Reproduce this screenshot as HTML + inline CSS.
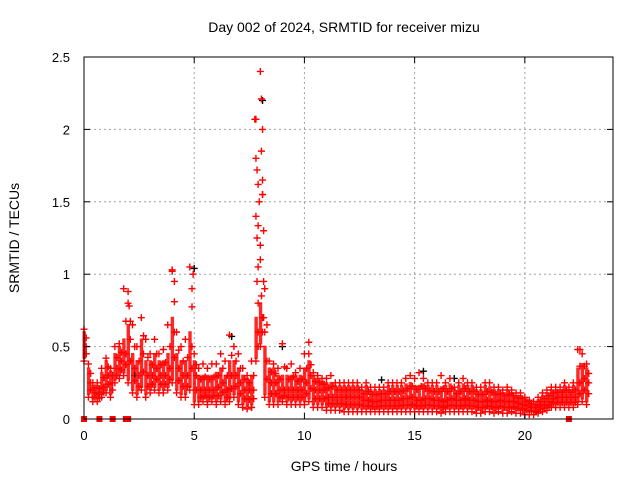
<!DOCTYPE html>
<html><head><meta charset="utf-8"><style>
body{margin:0;background:#fff}
svg{display:block;font-family:"Liberation Sans",sans-serif}
</style></head><body>
<svg id="c" width="640" height="480">
<text x="344" y="32" font-size="14" text-anchor="middle">Day 002 of 2024, SRMTID for receiver mizu</text>
<text x="344" y="471" font-size="14" text-anchor="middle">GPS time / hours</text>
<text transform="translate(19,238) rotate(-90)" font-size="14" text-anchor="middle">SRMTID / TECUs</text>
<g id="grid"></g><g id="marks"></g><g id="axes"></g>
</svg>
<script>
const xTicks=[0,5,10,15,20];
const yTicks=[0,0.5,1,1.5,2,2.5];
const yTickLabels=["0","0.5","1","1.5","2","2.5"];
const t0=0, tStep=0.2;
const midV=[.50,.25,.18,.17,.22,.30,.25,.35,.40,.45, .55,.35,.30,.45,.30,.30,.35,.30,.30,.35, .60,.35,.30,.30,.50,.30,.20,.20,.20,.20, .22,.25,.20,.30,.30,.25,.20,.20,.20,.60, .70,.40,.25,.25,.20,.20,.20,.20,.20,.20, .25,.30,.20,.20,.20,.15,.15,.15,.15,.15, .15,.15,.15,.13,.13,.12,.12,.13,.13,.13, .13,.13,.14,.14,.15,.13,.13,.14,.14,.13, .13,.12,.13,.14,.13,.13,.14,.13,.13,.12, .12,.13,.12,.12,.13,.12,.12,.12,.11,.10, .09,.08,.08,.09,.10,.12,.14,.15,.15,.15, .15,.15,.25,.28,.25];
const loV=[.40,.15,.12,.12,.15,.18,.15,.25,.28,.30, .25,.18,.15,.20,.15,.18,.20,.18,.18,.20, .25,.18,.15,.15,.20,.10,.10,.12,.10,.12, .10,.12,.10,.12,.15,.10,.08,.07,.08,.40, .50,.15,.10,.10,.10,.12,.10,.10,.10,.10, .10,.12,.08,.08,.08,.06,.06,.06,.06,.05, .05,.05,.05,.05,.05,.05,.05,.05,.05,.05, .05,.05,.05,.05,.05,.05,.05,.05,.05,.05, .05,.04,.05,.05,.05,.05,.05,.05,.05,.04, .04,.05,.05,.04,.05,.04,.04,.05,.04,.04, .03,.03,.03,.04,.05,.06,.08,.08,.08,.08, .08,.08,.10,.12,.10];
const hiV=[.62,.38,.25,.25,.35,.42,.35,.50,.52,.90, .80,.65,.50,.70,.55,.45,.55,.45,.48,.65, 1.02,.60,.50,.55,1.05,.45,.35,.38,.35,.38, .38,.45,.40,.58,.50,.45,.35,.30,.40,2.07, 2.40,.90,.40,.38,.35,.52,.35,.38,.32,.35, .45,.45,.32,.30,.28,.28,.30,.25,.25,.25, .25,.25,.25,.22,.25,.22,.22,.22,.22,.25, .25,.25,.25,.28,.30,.28,.32,.28,.25,.25, .25,.30,.25,.28,.22,.25,.28,.25,.25,.22, .22,.25,.25,.22,.22,.20,.22,.20,.18,.18, .15,.13,.12,.15,.18,.20,.22,.22,.22,.25, .22,.25,.48,.45,.38];
const spikeT=[7.75,7.8,7.85,7.9,7.95,8.0,8.05,8.1,8.1,8.15,7.85,7.9,8.0,8.05,8.15,8.2,7.8,7.85,7.9,8.1,8.15,8.05,4.0,4.1,4.9,4.95,2.0,2.05,10.2,22.5];
const spikeV=[2.07,1.8,1.72,1.62,1.5,1.2,2.21,2.0,1.65,1.3,0.95,0.8,1.1,0.85,0.7,0.6,1.4,1.25,1.05,1.55,0.95,1.85,1.03,0.95,0.9,1.0,0.88,0.78,0.53,0.48];
const zeroT=[0,0.7,1.3,1.9,2.0,22.0];
const blackT=[0.1,2.3,5.0,6.7,7.6,8.1,9.0,13.5,15.4,16.8,20.5];
const blackV=[0.45,0.3,1.04,0.57,0.08,2.2,0.5,0.27,0.33,0.28,0.05];

const L=84,R=613,T=57,B=419,XMAX=24,YMAX=2.5;
const X=t=>L+(R-L)*t/XMAX, Y=v=>B-(B-T)*v/YMAX;
const NS="http://www.w3.org/2000/svg";
function mk(tag,at,p){const e=document.createElementNS(NS,tag);for(const k in at)e.setAttribute(k,at[k]);p.appendChild(e);return e;}
const grid=document.getElementById('grid'),marks=document.getElementById('marks'),axes=document.getElementById('axes');
xTicks.forEach(t=>{
 if(t>0){const g=mk('line',{x1:X(t),x2:X(t),y1:T,y2:B,stroke:'#a0a0a0','stroke-dasharray':'2,3'},grid);
 
 }
 mk('line',{x1:X(t),x2:X(t),y1:B,y2:B-6,stroke:'#000'},axes);
 mk('line',{x1:X(t),x2:X(t),y1:T,y2:T+6,stroke:'#000'},axes);
 const lb=mk('text',{x:X(t),y:B+21,'font-size':13,'text-anchor':'middle'},axes);lb.textContent=t;
 
 
});
yTicks.forEach((v,i)=>{
 if(v>0&&v<YMAX){const g=mk('line',{x1:L,x2:R,y1:Y(v),y2:Y(v),stroke:'#a0a0a0','stroke-dasharray':'2,3'},grid);
 
 }
 mk('line',{x1:L,x2:L+6,y1:Y(v),y2:Y(v),stroke:'#000'},axes);
 mk('line',{x1:R,x2:R-6,y1:Y(v),y2:Y(v),stroke:'#000'},axes);
 const lb=mk('text',{x:L-14,y:Y(v)+5,'font-size':13,'text-anchor':'end'},axes);lb.textContent=yTickLabels[i];
 
 
});
const fr=mk('rect',{x:L,y:T,width:R-L,height:B-T,fill:'none',stroke:'#000'},axes);


function cross(x,y,col){let d=`M${x-3.5},${y}h7M${x},${y-3.5}v7`;const p=mk('path',{d:d,stroke:col,'stroke-width':1.4,fill:'none'},marks);return p;}
function plus(t,v,col,name){const p=cross(X(t),Y(v),col);
 
 }
blackT.forEach((t,i)=>plus(t,blackV[i],'#000','black-point'));
midV.forEach((m,i)=>{
 const t=t0+i*tStep;
 const top=Math.min(hiV[i],m+0.12);
 const band=mk('rect',{x:X(t)-1.5,y:Y(top)+2,width:X(tStep)-X(0)-1,height:Math.max(0,Y(loV[i])-Y(top)-4),fill:'#ff0000',opacity:0.85},marks);
 
 
 plus(t,loV[i],'#ff0000','srmtid-point');
 plus(t+tStep/2,m,'#ff0000','srmtid-point');
 plus(t,hiV[i],'#ff0000','srmtid-point');
 plus(t+tStep/2,(hiV[i]+m)/2,'#ff0000','srmtid-point');
 plus(t+tStep/2,(loV[i]+m)/2,'#ff0000','srmtid-point');
});
spikeT.forEach((t,i)=>plus(t,spikeV[i],'#ff0000','srmtid-point'));
zeroT.forEach(t=>{const r=mk('rect',{x:X(t)-3,y:B-3,width:6,height:6,fill:'#ff0000'},marks);
 
 });
</script>
</body></html>
